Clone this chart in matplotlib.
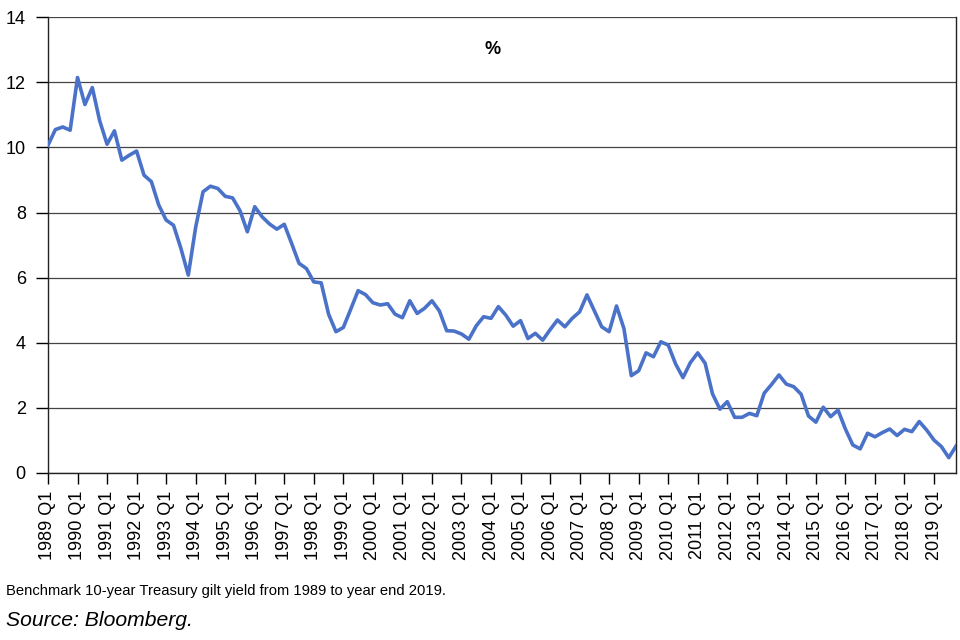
import matplotlib.pyplot as plt
import numpy as np

plt.rcParams["font.family"] = ["Liberation Sans", "DejaVu Sans"]

# Benchmark 10-year gilt yield, quarterly 1989 Q1 .. 2019 Q4 (%)
years = list(range(1989, 2020))
quarters = [f"{y} Q{q}" for y in years for q in range(1, 5)]
yields = [
    10.07, 10.55, 10.63, 10.53,  # 1989
    12.15, 11.32, 11.84, 10.82,  # 1990
    10.10, 10.51, 9.61, 9.76,    # 1991
    9.89, 9.15, 8.95, 8.23,      # 1992
    7.77, 7.61, 6.90, 6.08,      # 1993
    7.55, 8.64, 8.81, 8.74,      # 1994
    8.50, 8.45, 8.06, 7.41,      # 1995
    8.18, 7.87, 7.65, 7.49,      # 1996
    7.64, 7.05, 6.44, 6.28,      # 1997
    5.87, 5.84, 4.88, 4.34,      # 1998
    4.47, 5.03, 5.60, 5.48,      # 1999
    5.23, 5.16, 5.20, 4.88,      # 2000
    4.77, 5.29, 4.90, 5.06,      # 2001
    5.29, 4.98, 4.37, 4.36,      # 2002
    4.27, 4.11, 4.52, 4.80,      # 2003
    4.75, 5.11, 4.85, 4.51,      # 2004
    4.68, 4.13, 4.29, 4.08,      # 2005
    4.40, 4.70, 4.49, 4.75,      # 2006
    4.95, 5.47, 4.98, 4.49,      # 2007
    4.34, 5.13, 4.44, 2.99,      # 2008
    3.14, 3.69, 3.57, 4.03,      # 2009
    3.93, 3.35, 2.93, 3.39,      # 2010
    3.69, 3.37, 2.43, 1.96,      # 2011
    2.19, 1.71, 1.71, 1.83,      # 2012
    1.76, 2.45, 2.72, 3.01,      # 2013
    2.73, 2.65, 2.42, 1.75,      # 2014
    1.56, 2.02, 1.73, 1.93,      # 2015
    1.35, 0.86, 0.74, 1.22,      # 2016
    1.11, 1.24, 1.35, 1.15,      # 2017
    1.34, 1.27, 1.58, 1.32,      # 2018
    1.01, 0.81, 0.47, 0.83,      # 2019
]
y_ticks = list(range(0, 15, 2))

fig = plt.figure(figsize=(9.6, 6.4), dpi=100)
ax = fig.add_axes([0.05, 0.261, 0.946, 0.712])

x = np.arange(len(yields))
ax.plot(x, yields, color="#4a72c8", lw=2.6, solid_joinstyle="round", zorder=3)

ax.set_xlim(0, len(yields) - 1)
ax.set_ylim(0, 14)
ax.set_yticks(y_ticks)
ax.set_yticklabels([str(t) for t in y_ticks], fontsize=13)
ax.grid(axis="y", color="#444444", lw=0.9)
ax.set_axisbelow(True)

q1 = x[::4]
ax.set_xticks(q1)
ax.set_xticklabels([quarters[i] for i in q1], rotation=90, fontsize=13)
ax.tick_params(axis="x", length=8, width=1, pad=5, direction="out")
ax.tick_params(axis="y", length=9, width=1, pad=7, direction="out")

for s in ax.spines.values():
    s.set_color("#222222")
    s.set_linewidth(1.0)
ax.spines["top"].set_visible(False)

ax.text(0.489, 0.929, "%", transform=ax.transAxes, ha="center", va="center",
        fontsize=13, fontweight="bold")

fig.text(0.006, 0.077, "Benchmark 10-year Treasury gilt yield from 1989 to year end 2019.",
         fontsize=10.6, ha="left", va="center")
fig.text(0.006, 0.031, "Source: Bloomberg.", fontsize=15.2, style="italic",
         ha="left", va="center")

fig.savefig("out.png", dpi=100)
